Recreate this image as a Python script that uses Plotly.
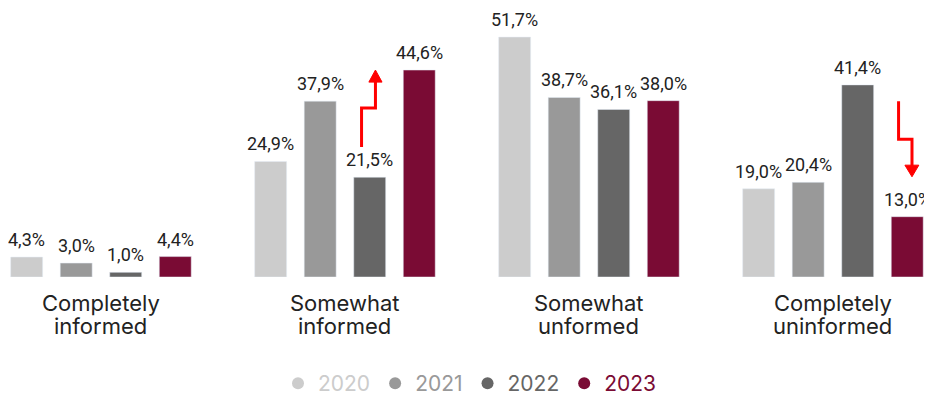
import plotly.graph_objects as go

categories = ["Completely informed", "Somewhat informed", "Somewhat unformed", "Completely uninformed"]
years = ["2020", "2021", "2022", "2023"]
v2020 = [4.3, 24.9, 51.7, 19.0]
v2021 = [3.0, 37.9, 38.7, 20.4]
v2022 = [1.0, 21.5, 36.1, 41.4]
v2023 = [4.4, 44.6, 38.0, 13.0]
colors = ["#cccccc", "#999999", "#666666", "#7a0b34"]

FONT = "Inter, Roboto, sans-serif"
LABEL_FONT = "Roboto, Inter, sans-serif"
BARGAP = 0.188
xpos = list(range(len(categories)))
series = [v2020, v2021, v2022, v2023]

fig = go.Figure()
for name, vals, col in zip(years, series, colors):
    fig.add_trace(go.Bar(x=xpos, y=vals, marker_color=col, showlegend=False))
for name, col in zip(years, colors):
    fig.add_trace(go.Scatter(
        x=[None], y=[None], mode="markers",
        marker=dict(color=col, size=14, symbol="circle"),
        name=f"<span style='color:{col}'>{name}</span>",
    ))

# value labels above bars (positions follow the grouped-bar layout)
slot = (1 - BARGAP) / len(series)
for j, vals in enumerate(series):
    off = (j - (len(series) - 1) / 2) * slot
    for i, v in enumerate(vals):
        fig.add_annotation(x=i + off, y=v, xref="x", yref="y",
                           text=f"{v:.1f}%".replace(".", ","), showarrow=False,
                           yanchor="bottom", yshift=5,
                           font=dict(size=18, color="#222222", family=LABEL_FONT))

# category labels, two lines
for i, cat in enumerate(categories):
    first, second = cat.split(" ", 1)
    for line, ys in ((first, -26), (second, -49)):
        fig.add_annotation(x=i, y=0, xref="x", yref="y", text=line, showarrow=False,
                           yanchor="middle", yshift=ys, borderpad=0,
                           font=dict(size=22, color="#222222", family=FONT))

red = "#ff0000"
# up arrow (Somewhat informed)
fig.add_shape(type="path", xref="x", yref="y",
              path="M 1.068 28.0 L 1.068 36.4 L 1.125 36.4 L 1.125 42.3",
              line=dict(color=red, width=3))
fig.add_shape(type="path", xref="x", yref="y",
              path="M 1.098 42.0 L 1.152 42.0 L 1.125 44.6 Z",
              fillcolor=red, line=dict(color=red, width=1))
# down arrow (Completely uninformed)
fig.add_shape(type="path", xref="x", yref="y",
              path="M 3.269 37.9 L 3.269 29.7 L 3.324 29.7 L 3.324 23.8",
              line=dict(color=red, width=3))
fig.add_shape(type="path", xref="x", yref="y",
              path="M 3.295 24.1 L 3.352 24.1 L 3.324 21.6 Z",
              fillcolor=red, line=dict(color=red, width=1))

fig.update_layout(
    width=924, height=388,
    margin=dict(l=0, r=0, t=0, b=119, autoexpand=False),
    paper_bgcolor="white", plot_bgcolor="white",
    barmode="group", bargap=BARGAP, bargroupgap=0.355,
    font=dict(family=FONT, color="#222222"),
    xaxis=dict(range=[-0.381, 3.406], showticklabels=False,
               showgrid=False, zeroline=False, showline=False, ticks="",
               automargin=False),
    yaxis=dict(range=[0, 57.97], visible=False, automargin=False),
    legend=dict(orientation="h", x=0.5, xanchor="center", yref="container",
                y=0.032, yanchor="middle", itemwidth=30,
                font=dict(size=21, family=FONT), itemsizing="constant"),
)
fig.write_html("out.html")
